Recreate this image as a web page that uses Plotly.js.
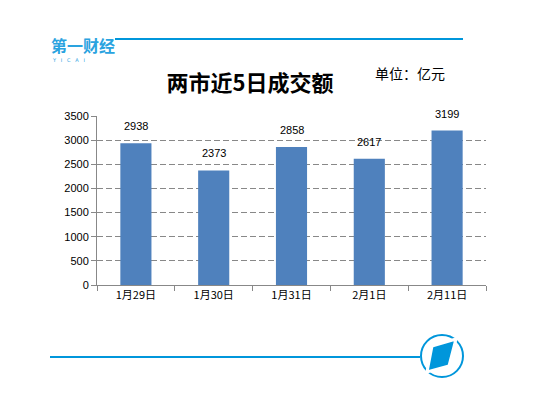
<!DOCTYPE html>
<html><head><meta charset="utf-8">
<script src="https://cdn.plot.ly/plotly-3.0.1.min.js"></script>
<style>html,body{margin:0;padding:0;background:#fff;}#chart{width:543px;height:396px;}</style>
</head><body><div id="chart"></div>
<script>
const categories = ["1月29日","1月30日","1月31日","2月1日","2月11日"];
const values = [2938, 2373, 2858, 2617, 3199];
const yTicks = [0,500,1000,1500,2000,2500,3000,3500];

const L=97, R=486, T=116, B=285;
const px = X => (X-L)/(R-L);
const py = Y => (B-Y)/(B-T);
const blue = '#0096DB';

const trace = {
  type:'bar', x:categories, y:values,
  marker:{color:'#4F81BD'},
  hoverinfo:'none'
};

const labelAnns = categories.map((c,i) => ({
  x:c, y:values[i], xref:'x', yref:'y', text:String(values[i]), showarrow:false,
  yanchor:'bottom', yshift:9,
  font:{family:'Liberation Sans, Arial', size:11, color:'#000'}
}));

const layout = {
  width:543, height:396,
  margin:{l:L, r:543-R, t:T, b:396-B, pad:0},
  paper_bgcolor:'#fff', plot_bgcolor:'#fff',
  showlegend:false, bargap:0.6,
  title:{text:'<b>两市近5日成交额</b>', x:250/543, xanchor:'center', y:1-83/396, yanchor:'middle',
         font:{family:'Noto Sans CJK SC', size:22, color:'#000'}},
  xaxis:{type:'category', showline:true, linecolor:'#888', linewidth:1, ticks:'outside', tickson:'boundaries',
         ticklen:5, tickcolor:'#888', showgrid:false,
         tickfont:{family:'Noto Sans CJK SC', size:11, color:'#000'}},
  yaxis:{range:[0,3500], tickvals:yTicks, showline:true, linecolor:'#888', linewidth:1,
         ticks:'outside', ticklen:5, tickcolor:'#888',
         showgrid:true, gridcolor:'#888', griddash:'6px,3px', gridwidth:1, zeroline:false,
         tickfont:{family:'Liberation Sans, Arial', size:11, color:'#000'}},
  shapes:[
    {type:'line', xref:'paper', yref:'paper', x0:px(115), x1:px(463), y0:py(39), y1:py(39), line:{color:blue, width:2}},
    {type:'line', xref:'paper', yref:'paper', x0:px(50), x1:px(420), y0:py(357), y1:py(357), line:{color:blue, width:2}},
    {type:'circle', xref:'paper', yref:'paper', xsizemode:'pixel', ysizemode:'pixel', xanchor:px(442), yanchor:py(356),
     x0:-21, x1:21, y0:-21, y1:21, line:{color:blue, width:2}},
    {type:'path', xref:'paper', yref:'paper', xsizemode:'pixel', ysizemode:'pixel', xanchor:px(442), yanchor:py(356),
     path:'M -10 10 L 14 17 L 7 -10 L -15 -16 Z', fillcolor:blue, line:{color:'#fff', width:3}}
  ],
  annotations:[
    {xref:'paper', yref:'paper', x:px(410), y:py(73), text:'单位：亿元', showarrow:false,
     font:{family:'Noto Sans CJK SC', size:14, color:'#000'}, xanchor:'center', yanchor:'middle'},
    {xref:'paper', yref:'paper', x:px(49), y:py(45), text:'<b>第一财经</b>', showarrow:false,
     font:{family:'Noto Sans CJK SC', size:16, color:'#2AA3DF'}, xanchor:'left', yanchor:'middle'},
    {xref:'paper', yref:'paper', x:px(50), y:py(60), text:'Y   I   C   A   I', showarrow:false,
     font:{family:'DejaVu Sans', size:5, color:'#2AA3DF'}, xanchor:'left', yanchor:'middle'}
  ].concat(labelAnns)
};

Plotly.newPlot('chart', [trace], layout, {staticPlot:true, displayModeBar:false});
</script></body></html>
